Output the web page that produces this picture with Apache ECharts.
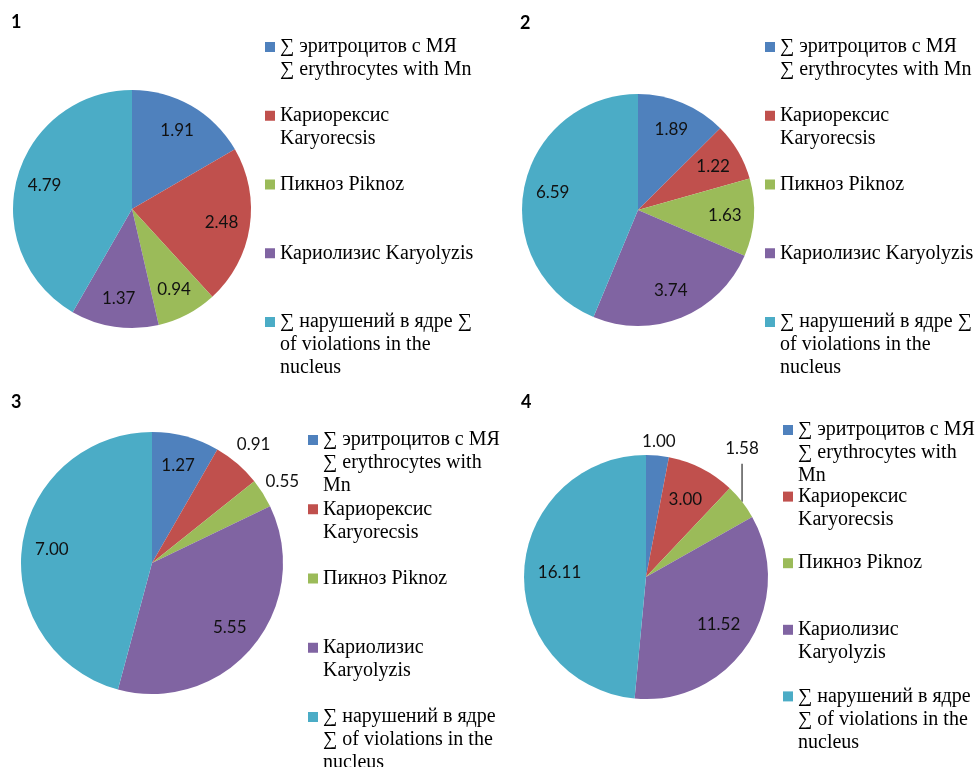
<!DOCTYPE html>
<html>
<head>
<meta charset="utf-8">
<script src="https://cdn.jsdelivr.net/npm/echarts@6/dist/echarts.min.js"></script>
<style>
html, body { margin: 0; padding: 0; background: #fff; }
#main { width: 978px; height: 767px; }
</style>
</head>
<body>
<div id="main"></div>
<script>
var names = [
    '∑ эритроцитов с МЯ ∑ erythrocytes with Mn',
    'Кариорексис Karyorecsis',
    'Пикноз Piknoz',
    'Кариолизис Karyolyzis',
    '∑ нарушений в ядре ∑ of violations in the nucleus'
];

// legend text, wrapped the way each panel shows it
var legendWide = [
    ['∑ эритроцитов с МЯ', '∑ erythrocytes with Mn'],
    ['Кариорексис', 'Karyorecsis'],
    ['Пикноз Piknoz'],
    ['Кариолизис Karyolyzis'],
    ['∑ нарушений в ядре ∑', 'of violations in the', 'nucleus']
];
var legendNarrow = [
    ['∑ эритроцитов с МЯ', '∑ erythrocytes with', 'Mn'],
    ['Кариорексис', 'Karyorecsis'],
    ['Пикноз Piknoz'],
    ['Кариолизис', 'Karyolyzis'],
    ['∑ нарушений в ядре', '∑ of violations in the', 'nucleus']
];

var values1 = [1.91, 2.48, 0.94, 1.37, 4.79];
var values2 = [1.89, 1.22, 1.63, 3.74, 6.59];
var values3 = [1.27, 0.91, 0.55, 5.55, 7.00];
var values4 = [1.00, 3.00, 1.58, 11.52, 16.11];

var colors = ['#4F81BD', '#C0504D', '#9BBB59', '#8064A2', '#4BACC6'];
var serifFont = '"Liberation Serif", "Times New Roman", serif';

var panels = [
    { title: '1', values: values1, lines: legendWide, center: [132, 209], r: 119, r0: 56,
      titlePos: [11, 13], legendPos: [260, 35.5], legendGap: -0.25, outside: {} },
    { title: '2', values: values2, lines: legendWide, center: [638, 210], r: 116, r0: 52,
      titlePos: [520, 14], legendPos: [760, 35.5], legendGap: -0.25, outside: {} },
    { title: '3', values: values3, lines: legendNarrow, center: [152, 563], r: 131, r0: 65,
      titlePos: [11, 393], legendPos: [303, 428.5], legendGap: 0.25,
      outside: { 1: { dist: 25 }, 2: { dist: 23 } } },
    { title: '4', values: values4, lines: legendNarrow, center: [646, 577], r: 122, r0: 45,
      titlePos: [521, 393], legendPos: [778, 418.5], legendGap: -2.4,
      outside: { 0: { dist: 14 }, 2: { lift: 53, line: 38 } } }
];

var legendRich = {
    g: { width: 5 },
    i: { width: 15 },
    t: { fontFamily: serifFont, fontSize: 20, lineHeight: 23, color: '#000' }
};
colors.forEach(function (c, i) {
    legendRich['m' + i] = { width: 10, height: 10, backgroundColor: c, lineHeight: 23 };
});

function legendFormatter(lines) {
    return function (name) {
        var idx = names.indexOf(name);
        var rows = lines[idx];
        var out = '{m' + idx + '| }{g| }{t|' + rows[0] + '}';
        for (var k = 1; k < 3; k++) {
            out += rows[k] ? '\n{i| }{t|' + rows[k] + '}' : '\n{t| }';
        }
        return out;
    };
}

function pieData(p, withLabels) {
    return names.map(function (n, i) {
        var d = { name: n, value: p.values[i] };
        var o = p.outside[i];
        if (withLabels && o) {
            d.label = { position: 'outside' };
            d.labelLine = { show: true, lineStyle: { color: '#000', width: 1, opacity: o.lift ? 1 : 0 } };
        }
        return d;
    });
}

function labelPlacer(p) {
    return function (params) {
        var o = p.outside[params.dataIndex];
        var pts = params.labelLinePoints;
        if (!o || !pts) {
            return {};
        }
        var p0 = pts[0], p1 = pts[1];
        if (o.lift) {
            var top = [p0[0], p0[1] - o.line];
            return {
                x: p0[0], y: p0[1] - o.lift, align: 'center', verticalAlign: 'middle',
                labelLinePoints: [[p0[0], p0[1]], top, top.slice()]
            };
        }
        var dx = p1[0] - p0[0], dy = p1[1] - p0[1];
        var len = Math.sqrt(dx * dx + dy * dy) || 1;
        return {
            x: p0[0] + dx / len * o.dist,
            y: p0[1] + dy / len * o.dist,
            align: 'center',
            verticalAlign: 'middle'
        };
    };
}

var titles = [], legends = [], series = [];
panels.forEach(function (p) {
    titles.push({
        text: p.title,
        left: p.titlePos[0],
        top: p.titlePos[1],
        padding: 0,
        textStyle: { fontFamily: 'Lato', fontWeight: 'bold', fontSize: 18, color: '#000' }
    });
    legends.push({
        data: names,
        orient: 'vertical',
        left: p.legendPos[0],
        top: p.legendPos[1],
        height: 400,
        padding: 0,
        itemGap: p.legendGap,
        itemWidth: 0,
        itemHeight: 0,
        selectedMode: false,
        formatter: legendFormatter(p.lines),
        textStyle: { fontFamily: serifFont, fontSize: 20, lineHeight: 23, color: '#000', rich: legendRich }
    });
    // the slices
    series.push({
        type: 'pie',
        center: p.center,
        radius: p.r,
        startAngle: 90,
        clockwise: true,
        silent: true,
        label: { show: false },
        labelLine: { show: false },
        emphasis: { disabled: true },
        data: pieData(p, false)
    });
    // transparent ring that only carries the value labels
    series.push({
        type: 'pie',
        center: p.center,
        radius: [p.r0, p.r],
        startAngle: 90,
        clockwise: true,
        silent: true,
        avoidLabelOverlap: false,
        itemStyle: { color: 'transparent', borderWidth: 0 },
        emphasis: { disabled: true },
        label: {
            show: true,
            position: 'inside',
            fontFamily: 'Lato',
            fontSize: 17,
            color: '#111',
            formatter: function (prm) { return prm.value.toFixed(2); }
        },
        labelLine: { show: false },
        labelLayout: labelPlacer(p),
        data: pieData(p, true)
    });
});

var myChart = echarts.init(document.getElementById('main'));
var option = {
    animation: false,
    color: colors,
    title: titles,
    legend: legends,
    series: series
};
myChart.setOption(option);
</script>
</body>
</html>
